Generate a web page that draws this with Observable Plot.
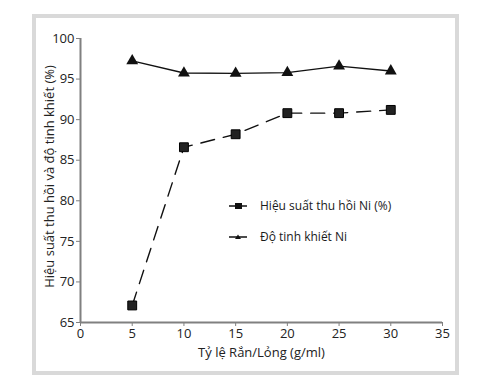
<!DOCTYPE html>
<html><head><meta charset="utf-8">
<script src="https://cdn.jsdelivr.net/npm/d3@7"></script>
<script src="https://cdn.jsdelivr.net/npm/@observablehq/plot@0.6"></script>
<style>
body{margin:0;background:#fff;}
#wrap{position:relative;width:492px;height:385px;overflow:hidden;font-family:"Open Sans",sans-serif;}
#frame{position:absolute;left:32px;top:14px;width:419px;height:353px;border:4px solid #d9d9d9;}
#chart{position:absolute;left:0;top:0;}
.leg{position:absolute;left:228px;font-size:12px;color:#1a1a1a;display:flex;align-items:center;white-space:nowrap;}
.leg svg{margin-right:12px;}
</style></head><body>
<div id="wrap"><div id="frame"></div><div id="chart"></div>
<div class="leg" style="top:197px" id="l1"></div>
<div class="leg" style="top:228px" id="l2"></div>
</div>
<script>
const ratios = [5, 10, 15, 20, 25, 30];
const recovery = [67.1, 86.6, 88.2, 90.8, 90.8, 91.2];
const purity = [97.25, 95.75, 95.7, 95.8, 96.6, 96.0];
const seriesNames = ["Hiệu suất thu hồi Ni (%)", "Độ tinh khiết Ni"];
const xTicks = [0, 5, 10, 15, 20, 25, 30, 35];
const yTicks = [65, 70, 75, 80, 85, 90, 95, 100];

const rec = ratios.map((x, i) => ({x, y: recovery[i]}));
const pur = ratios.map((x, i) => ({x, y: purity[i]}));

const plot = Plot.plot({
  width: 492, height: 385,
  marginLeft: 80, marginRight: 50, marginTop: 38, marginBottom: 63,
  style: {fontFamily: "'Open Sans', sans-serif", fontSize: "13px", color: "#222", background: "transparent"},
  x: {domain: [0, 35], ticks: xTicks, tickSize: 4, tickPadding: 2, label: null},
  y: {domain: [65, 100], ticks: yTicks, tickSize: 4, tickPadding: 2, label: null},
  marks: [
    Plot.ruleX([0], {stroke: "#808080", strokeWidth: 2}),
    Plot.ruleY([65], {stroke: "#808080", strokeWidth: 2}),
    Plot.line(rec, {x: "x", y: "y", stroke: "#111", strokeWidth: 1.4, strokeDasharray: "14,9"}),
    Plot.dot(rec, {x: "x", y: "y", symbol: "square", r: 5, fill: "#222", stroke: "#000", strokeWidth: 1}),
    Plot.line(pur, {x: "x", y: "y", stroke: "#111", strokeWidth: 1.4}),
    Plot.dot(pur, {x: "x", y: "y", symbol: "triangle", r: 4.4, fill: "#111", stroke: "none"}),
    Plot.text(["Tỷ lệ Rắn/Lỏng (g/ml)"], {frameAnchor: "bottom", dy: 34, fontSize: 13, fill: "#222"}),
    Plot.text(["Hiệu suất thu hồi và độ tinh khiết (%)"], {frameAnchor: "left", textAnchor: "middle", dx: -31, dy: -4, rotate: -90, fontSize: 13, fill: "#222"})
  ]
});
plot.querySelectorAll("[aria-label='x-axis tick'], [aria-label='y-axis tick']").forEach(g => g.setAttribute("stroke", "#808080"));
document.getElementById("chart").appendChild(plot);

function legendIcon(symbol) {
  const s = d3.create("svg").attr("width", 20).attr("height", 10);
  s.append("line").attr("x1", 1).attr("x2", 19).attr("y1", 5).attr("y2", 5).attr("stroke", "#111").attr("stroke-width", 1.5);
  if (symbol === "square") s.append("rect").attr("x", 7).attr("y", 2).attr("width", 7).attr("height", 6).attr("fill", "#111");
  else s.append("path").attr("d", "M10,2.5L13,7H7Z").attr("fill", "#111");
  return s.node();
}
const l1 = document.getElementById("l1"), l2 = document.getElementById("l2");
l1.appendChild(legendIcon("square")); l1.appendChild(document.createTextNode(seriesNames[0]));
l2.appendChild(legendIcon("triangle")); l2.appendChild(document.createTextNode(seriesNames[1]));
</script>
</body></html>
